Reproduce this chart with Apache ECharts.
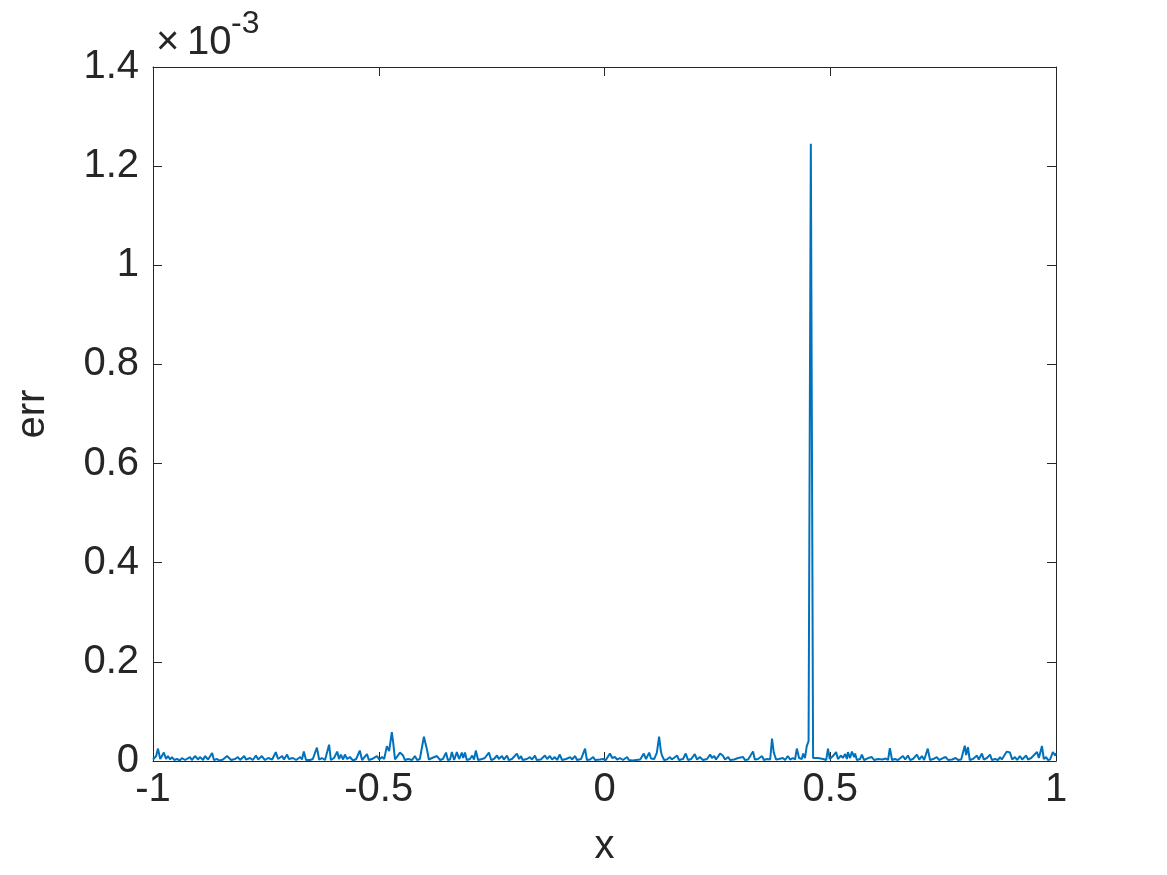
<!DOCTYPE html>
<html>
<head>
<meta charset="utf-8">
<title>err vs x</title>
<script src="https://cdn.jsdelivr.net/npm/echarts@6/dist/echarts.min.js"></script>
<style>
  html, body { margin: 0; padding: 0; background: #ffffff; }
  #chart { width: 1167px; height: 875px; }
</style>
</head>
<body>
<div id="chart"></div>
<script>
// axis settings (y values are in units of 1e-3, as the "x10^-3" label says)
const xTicks = [-1, -0.5, 0, 0.5, 1];
const yTicks = [0, 0.2, 0.4, 0.6, 0.8, 1, 1.2, 1.4];
const yExponent = '-3';

const errSamples = [
  [-1.000,0.003],[-0.993,0.010],[-0.989,0.025],[-0.984,0.004],[-0.976,0.017],[-0.971,0.004],[-0.967,0.010],[-0.962,0.003],
  [-0.958,0.008],[-0.953,0.002],[-0.947,0.004],[-0.940,0.001],[-0.936,0.006],[-0.929,0.002],[-0.925,0.004],[-0.918,0.008],
  [-0.914,0.002],[-0.907,0.010],[-0.900,0.003],[-0.896,0.008],[-0.889,0.002],[-0.885,0.010],[-0.878,0.003],[-0.869,0.016],
  [-0.865,0.002],[-0.858,0.004],[-0.852,0.001],[-0.845,0.003],[-0.836,0.010],[-0.832,0.008],[-0.827,0.002],[-0.818,0.004],
  [-0.812,0.008],[-0.807,0.002],[-0.798,0.010],[-0.794,0.003],[-0.785,0.006],[-0.779,0.002],[-0.772,0.011],[-0.767,0.003],
  [-0.759,0.010],[-0.752,0.002],[-0.745,0.006],[-0.736,0.003],[-0.728,0.018],[-0.723,0.004],[-0.714,0.010],[-0.710,0.003],
  [-0.703,0.013],[-0.699,0.004],[-0.690,0.006],[-0.683,0.002],[-0.674,0.008],[-0.670,0.003],[-0.666,0.019],[-0.661,0.002],
  [-0.657,0.006],[-0.652,0.002],[-0.646,0.004],[-0.637,0.027],[-0.632,0.003],[-0.626,0.006],[-0.619,0.002],[-0.610,0.033],
  [-0.606,0.002],[-0.599,0.006],[-0.592,0.019],[-0.588,0.004],[-0.584,0.013],[-0.579,0.003],[-0.575,0.013],[-0.570,0.004],
  [-0.564,0.008],[-0.557,0.001],[-0.550,0.004],[-0.542,0.021],[-0.537,0.002],[-0.533,0.004],[-0.526,0.014],[-0.522,0.002],
  [-0.515,0.004],[-0.504,0.010],[-0.499,0.003],[-0.493,0.008],[-0.488,0.004],[-0.482,0.030],[-0.477,0.020],[-0.471,0.058],
  [-0.468,0.037],[-0.464,0.003],[-0.460,0.004],[-0.453,0.017],[-0.446,0.011],[-0.442,0.002],[-0.435,0.004],[-0.426,0.002],
  [-0.420,0.010],[-0.415,0.002],[-0.409,0.004],[-0.400,0.049],[-0.393,0.022],[-0.389,0.003],[-0.382,0.006],[-0.378,0.002],
  [-0.371,0.010],[-0.364,0.002],[-0.358,0.004],[-0.351,0.017],[-0.347,0.002],[-0.342,0.003],[-0.338,0.018],[-0.333,0.002],
  [-0.327,0.018],[-0.322,0.004],[-0.316,0.017],[-0.313,0.006],[-0.309,0.017],[-0.305,0.002],[-0.298,0.004],[-0.293,0.011],
  [-0.289,0.003],[-0.285,0.021],[-0.280,0.002],[-0.271,0.004],[-0.265,0.006],[-0.256,0.017],[-0.251,0.002],[-0.245,0.004],
  [-0.238,0.011],[-0.234,0.004],[-0.227,0.010],[-0.223,0.003],[-0.216,0.011],[-0.212,0.002],[-0.205,0.004],[-0.194,0.015],
  [-0.189,0.004],[-0.185,0.010],[-0.181,0.002],[-0.172,0.004],[-0.165,0.008],[-0.161,0.003],[-0.154,0.011],[-0.150,0.002],
  [-0.141,0.003],[-0.132,0.011],[-0.127,0.004],[-0.121,0.010],[-0.116,0.003],[-0.110,0.008],[-0.105,0.002],[-0.099,0.013],
  [-0.094,0.002],[-0.085,0.004],[-0.076,0.008],[-0.072,0.003],[-0.065,0.010],[-0.061,0.002],[-0.052,0.004],[-0.043,0.025],
  [-0.039,0.002],[-0.032,0.003],[-0.025,0.008],[-0.021,0.002],[-0.010,0.003],[-0.003,0.004],[0.003,0.002],[0.012,0.015],
  [0.017,0.006],[0.023,0.008],[0.028,0.003],[0.034,0.006],[0.041,0.002],[0.050,0.008],[0.054,0.002],[0.063,0.001],
  [0.070,0.002],[0.079,0.003],[0.087,0.015],[0.092,0.004],[0.099,0.017],[0.103,0.005],[0.110,0.004],[0.116,0.017],
  [0.121,0.049],[0.125,0.019],[0.127,0.012],[0.132,0.002],[0.138,0.003],[0.145,0.008],[0.149,0.003],[0.161,0.011],
  [0.165,0.002],[0.174,0.004],[0.180,0.015],[0.185,0.002],[0.192,0.004],[0.200,0.014],[0.205,0.003],[0.211,0.008],
  [0.218,0.002],[0.227,0.004],[0.234,0.013],[0.238,0.006],[0.243,0.010],[0.247,0.003],[0.256,0.015],[0.262,0.011],
  [0.267,0.003],[0.274,0.008],[0.278,0.002],[0.287,0.003],[0.296,0.006],[0.300,0.002],[0.307,0.008],[0.311,0.002],
  [0.318,0.003],[0.322,0.004],[0.329,0.019],[0.333,0.003],[0.340,0.004],[0.349,0.010],[0.353,0.002],[0.360,0.004],
  [0.367,0.003],[0.371,0.045],[0.375,0.017],[0.380,0.003],[0.386,0.004],[0.395,0.006],[0.400,0.002],[0.406,0.010],
  [0.411,0.003],[0.417,0.006],[0.422,0.003],[0.426,0.025],[0.431,0.006],[0.433,0.010],[0.437,0.004],[0.440,0.015],
  [0.444,0.006],[0.448,0.030],[0.452,0.040],[0.457,1.245],[0.462,0.006],[0.466,0.003],[0.473,0.006],[0.477,0.002],
  [0.484,0.004],[0.491,0.002],[0.495,0.025],[0.499,0.004],[0.506,0.010],[0.513,0.018],[0.517,0.004],[0.524,0.011],
  [0.528,0.006],[0.533,0.014],[0.537,0.004],[0.539,0.018],[0.544,0.006],[0.548,0.019],[0.553,0.008],[0.555,0.015],
  [0.559,0.002],[0.566,0.004],[0.570,0.013],[0.575,0.002],[0.584,0.006],[0.588,0.002],[0.592,0.008],[0.597,0.002],
  [0.606,0.004],[0.615,0.003],[0.623,0.005],[0.628,0.002],[0.632,0.026],[0.637,0.002],[0.643,0.004],[0.650,0.002],
  [0.654,0.006],[0.661,0.010],[0.666,0.003],[0.672,0.011],[0.677,0.002],[0.683,0.004],[0.692,0.013],[0.697,0.003],
  [0.703,0.010],[0.708,0.002],[0.716,0.025],[0.721,0.002],[0.728,0.004],[0.736,0.008],[0.741,0.002],[0.750,0.006],
  [0.756,0.008],[0.761,0.002],[0.770,0.003],[0.778,0.006],[0.783,0.002],[0.790,0.003],[0.794,0.004],[0.798,0.031],
  [0.801,0.012],[0.805,0.028],[0.809,0.002],[0.816,0.004],[0.825,0.011],[0.829,0.003],[0.836,0.015],[0.840,0.003],
  [0.847,0.006],[0.854,0.013],[0.858,0.002],[0.865,0.004],[0.872,0.002],[0.876,0.008],[0.880,0.003],[0.891,0.019],
  [0.898,0.017],[0.903,0.003],[0.909,0.008],[0.914,0.002],[0.920,0.010],[0.925,0.003],[0.934,0.011],[0.938,0.003],
  [0.945,0.006],[0.949,0.002],[0.958,0.018],[0.962,0.006],[0.969,0.030],[0.973,0.004],[0.978,0.008],[0.982,0.002],
  [0.987,0.003],[0.993,0.018],[0.998,0.011],[1.000,0.016]
];

const ink = '#262626';
const fontFamily = 'Liberation Sans, Helvetica, Arial, sans-serif';
const labelSize = 40;

const chart = echarts.init(document.getElementById('chart'), null, { renderer: 'canvas' });

// common axis look, MATLAB-style box with ticks inside
const axisBase = (lo, hi, step) => ({
  type: 'value',
  min: lo,
  max: hi,
  interval: step,
  splitLine: { show: false },
  axisLine: { show: true, onZero: false, lineStyle: { color: ink, width: 1 } },
  axisTick: { show: true, inside: true, length: 9, lineStyle: { color: ink, width: 1 } }
});

const option = {
  backgroundColor: '#ffffff',
  animation: false,
  grid: { left: 153, right: 111, top: 67, bottom: 114, containLabel: false },
  xAxis: [
    Object.assign(axisBase(xTicks[0], xTicks[xTicks.length - 1], 0.5), {
      position: 'bottom',
      name: 'x',
      nameLocation: 'middle',
      nameGap: 66,
      nameTextStyle: { color: ink, fontSize: labelSize, fontFamily },
      axisLabel: { color: ink, fontSize: labelSize, fontFamily, margin: 9 }
    }),
    Object.assign(axisBase(xTicks[0], xTicks[xTicks.length - 1], 0.5), {
      position: 'top',
      axisLabel: { show: false }
    })
  ],
  yAxis: [
    Object.assign(axisBase(yTicks[0], yTicks[yTicks.length - 1], 0.2), {
      position: 'left',
      name: 'err',
      nameLocation: 'middle',
      nameGap: 100,
      nameTextStyle: { color: ink, fontSize: labelSize, fontFamily },
      axisLabel: { color: ink, fontSize: labelSize, fontFamily, margin: 14 }
    }),
    Object.assign(axisBase(yTicks[0], yTicks[yTicks.length - 1], 0.2), {
      position: 'right',
      axisLabel: { show: false }
    })
  ],
  graphic: [
    { type: 'text', left: 156, top: 23, style: { text: '×', font: '40px ' + fontFamily, fill: ink } },
    { type: 'text', left: 187, top: 23, style: { text: '10', font: '40px ' + fontFamily, fill: ink } },
    { type: 'text', left: 231, top: 8, style: { text: yExponent, font: '32px ' + fontFamily, fill: ink } }
  ],
  series: [
    {
      name: 'err',
      type: 'line',
      xAxisIndex: 0,
      yAxisIndex: 0,
      data: errSamples,
      showSymbol: false,
      symbol: 'none',
      lineStyle: { color: '#0072BD', width: 2 },
      emphasis: { disabled: true }
    }
  ]
};

chart.setOption(option);
</script>
</body>
</html>
